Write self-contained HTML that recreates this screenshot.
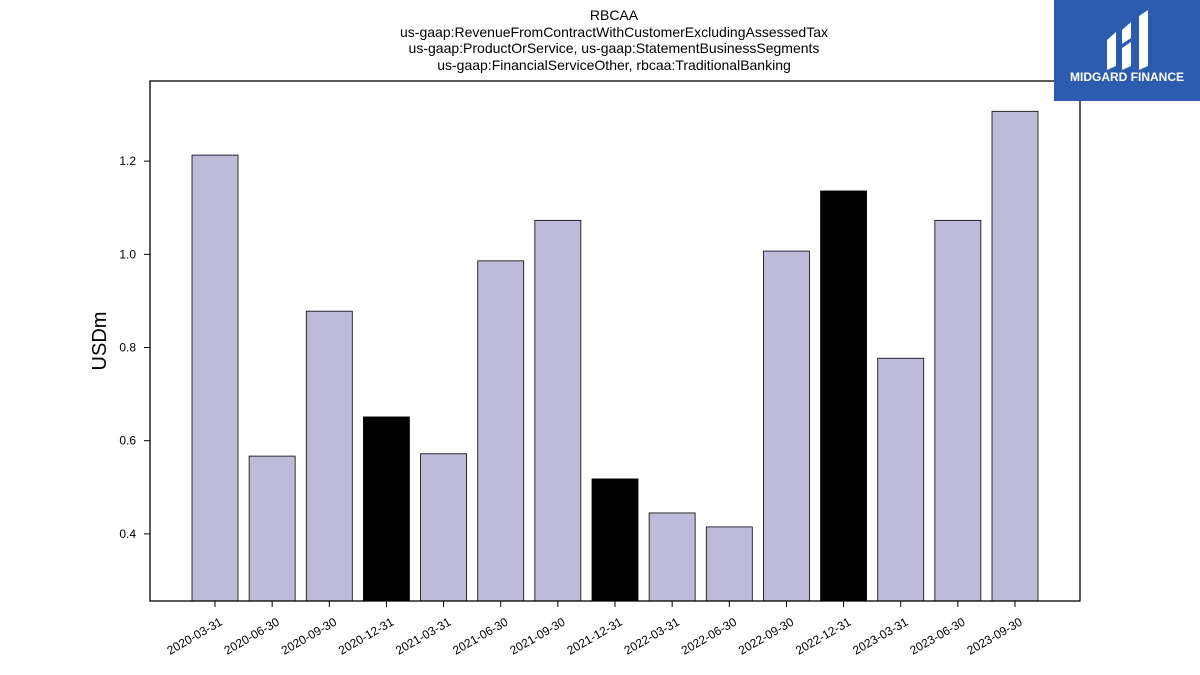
<!DOCTYPE html>
<html><head><meta charset="utf-8"><style>
body{margin:0;background:#fff;font-family:"Liberation Sans","DejaVu Sans",sans-serif}
#wrap{position:relative;width:1200px;height:675px;overflow:hidden}
</style></head><body>
<div id="wrap">
<svg id="chart" width="1200" height="675">
<g font-size="14" text-anchor="middle" fill="#000">
<text x="614" y="20">RBCAA</text>
<text x="614" y="37">us-gaap:RevenueFromContractWithCustomerExcludingAssessedTax</text>
<text x="614" y="53">us-gaap:ProductOrService, us-gaap:StatementBusinessSegments</text>
<text x="614" y="70">us-gaap:FinancialServiceOther, rbcaa:TraditionalBanking</text>
</g>
<g id="bars"></g>
<g id="yaxis"></g>
<g id="xaxis"></g>
<rect x="150" y="81" width="930" height="520" fill="none" stroke="#000" stroke-width="1.3"/>
<text x="106" y="341" font-size="20" text-anchor="middle" transform="rotate(-90 106 341)">USDm</text>
<g>
<rect x="1054" y="0" width="146" height="101" fill="#2b5cad"/>
<path d="M1107 40 L1116 32 L1116 66 L1107 70 Z M1122 30 L1131 22 L1131 38 L1122 44 Z M1122 48 L1131 42 L1131 66 L1122 70 Z M1139 16 L1148 10 L1148 66 L1139 70 Z" fill="#fff"/>
<text x="1127" y="81" font-size="12" font-weight="bold" fill="#fff" text-anchor="middle">MIDGARD FINANCE</text>
</g>
</svg>
</div>
<script>
const categories=["2020-03-31","2020-06-30","2020-09-30","2020-12-31","2021-03-31","2021-06-30","2021-09-30","2021-12-31","2022-03-31","2022-06-30","2022-09-30","2022-12-31","2023-03-31","2023-06-30","2023-09-30"];
const values=[1.213,0.567,0.878,0.651,0.572,0.986,1.073,0.518,0.445,0.415,1.007,1.136,0.777,1.073,1.307];
const highlighted=[false,false,false,true,false,false,false,true,false,false,false,true,false,false,false];
const yTicks=[0.4,0.6,0.8,1.0,1.2];
const yMin=0.256,yMax=1.372;
const ns="http://www.w3.org/2000/svg";
function yS(v){return 601-(v-yMin)/(yMax-yMin)*520;}
function xS(i){return 215+i*(1015-215)/(categories.length-1);}
const bw=46;
const bars=document.getElementById('bars'),xa=document.getElementById('xaxis'),ya=document.getElementById('yaxis');
categories.forEach((c,i)=>{
 const r=document.createElementNS(ns,'rect');
 
 
 r.setAttribute('x',xS(i)-bw/2);r.setAttribute('y',yS(values[i]));
 r.setAttribute('width',bw);r.setAttribute('height',601-yS(values[i]));
 r.setAttribute('fill',highlighted[i]?'#000':'#bebada');r.setAttribute('stroke','#000');r.setAttribute('stroke-width','0.8');
 bars.appendChild(r);
 const t=document.createElementNS(ns,'line');
 
 
 t.setAttribute('x1',xS(i));t.setAttribute('x2',xS(i));t.setAttribute('y1',601);t.setAttribute('y2',607);t.setAttribute('stroke','#000');
 xa.appendChild(t);
 const l=document.createElementNS(ns,'text');
 
 
 const lx=xS(i)+4,ly=617;
 l.setAttribute('x',lx);l.setAttribute('y',ly);l.setAttribute('font-size','12');l.setAttribute('text-anchor','end');
 l.setAttribute('transform','rotate(-30 '+lx+' '+ly+')');l.setAttribute('dy','0.7em');
 l.textContent=c;xa.appendChild(l);
});
yTicks.forEach(v=>{
 const t=document.createElementNS(ns,'line');
 
 
 t.setAttribute('x1',144);t.setAttribute('x2',150);t.setAttribute('y1',yS(v));t.setAttribute('y2',yS(v));t.setAttribute('stroke','#000');
 ya.appendChild(t);
 const l=document.createElementNS(ns,'text');
 
 
 l.setAttribute('x',136);l.setAttribute('y',yS(v)+4);l.setAttribute('font-size','12');l.setAttribute('text-anchor','end');
 l.textContent=v.toFixed(1);ya.appendChild(l);
});
</script>
</body></html>
